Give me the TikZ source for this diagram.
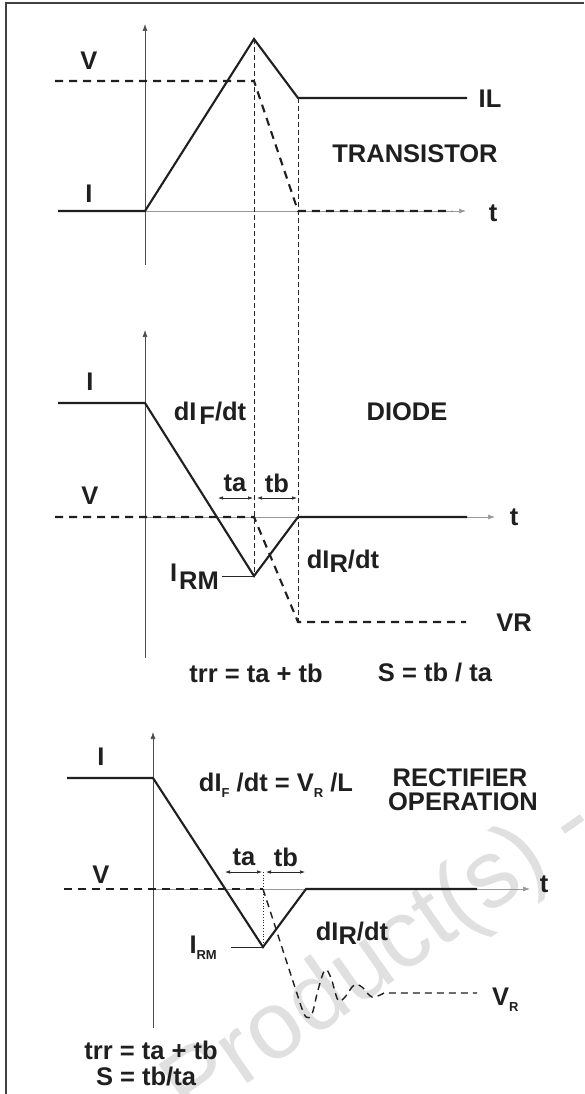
\documentclass[tikz,border=0pt]{standalone}
\usepackage{fontspec}
\setmainfont{Liberation Sans}
\usetikzlibrary{arrows.meta}
\begin{document}
\begin{tikzpicture}[x=1pt,y=-1pt,
  lbl/.style={font=\fontsize{25.5}{27}\selectfont\bfseries, text=black!88, inner sep=0pt},
  wave/.style={line width=2.1pt, draw=black!88, line join=miter},
  vdash/.style={line width=2.1pt, draw=black!88, dash pattern=on 8pt off 6pt},
  vdashthin/.style={line width=1.4pt, draw=black!88, dash pattern=on 7pt off 5pt},
  guide/.style={line width=0.8pt, draw=black!85, dash pattern=on 5pt off 3pt},
  yaxis/.style={line width=0.7pt, draw=black!70, -{Latex[length=7pt,width=5pt]}},
  taxis/.style={line width=0.7pt, draw=black!40, -{Latex[length=7pt,width=5pt]}},
  dimarrow/.style={line width=0.7pt, draw=black!85, {Latex[length=5pt,width=3.5pt]}-{Latex[length=5pt,width=3.5pt]}},
  leader/.style={line width=0.8pt, draw=black!85},
]
\newcommand{\smallsub}[1]{\raisebox{-6pt}{\fontsize{13}{13}\selectfont #1}}
\useasboundingbox (0,0) rectangle (584,1094);
\fill[white] (0,0) rectangle (584,1094);

% watermark
\node[rotate=35, anchor=base west, text=black!12, inner sep=0pt,
      font=\fontsize{96}{96}\selectfont] (wm) at (190,1124) {Product(s) -};

% frame
\draw[line width=2pt, draw=black!75] (6,1094) -- (6,3) -- (584,3);

% ================= TRANSISTOR =================
\coordinate (tA0) at (145,265);
\coordinate (tA1) at (145,24);
\coordinate (tO) at (145,211);
\coordinate (tT) at (466,211);
\coordinate (tS) at (58,211);
\coordinate (tP) at (254,39);
\coordinate (tQ) at (298,98);
\coordinate (tE) at (467,98);
\coordinate (tV0) at (55,81);
\coordinate (tV1) at (254,81);
\coordinate (tV2) at (298,211);
\coordinate (tV3) at (452,211);
\draw[yaxis] (tA0) -- (tA1);
\draw[taxis] (tO) -- (tT);
\draw[wave] (tS) -- (tO) -- (tP) -- (tQ) -- (tE);
\draw[vdash] (tV0) -- (tV1) -- (tV2) -- (tV3);
\node[lbl] (tlV) at (89,61) {V};
\node[lbl] (tlI) at (89,194) {I};
\node[lbl] (tlIL) at (490,99) {IL};
\node[lbl] (tlt) at (493,213) {t};
\node[lbl] (tlname) at (415,154) {TRANSISTOR};

% ================= DIODE =================
\coordinate (dA0) at (145,658);
\coordinate (dA1) at (145,330);
\coordinate (dO) at (145,517);
\coordinate (dT) at (495,517);
\coordinate (dS) at (58,403);
\coordinate (dK) at (145,403);
\coordinate (dRM) at (254,576);
\coordinate (dQ) at (298,517);
\coordinate (dE) at (467,517);
\coordinate (dV0) at (55,517);
\coordinate (dV1) at (254,517);
\coordinate (dV2) at (298,622);
\coordinate (dV3) at (466,622);
\draw[yaxis] (dA0) -- (dA1);
\draw[taxis] (dO) -- (dT);
\draw[wave] (dS) -- (dK) -- (dRM) -- (dQ) -- (dE);
\draw[vdash] (dV0) -- (dV1) -- (dV2) -- (dV3);

% guide lines
\draw[guide] (tP) -- (dRM);
\draw[guide] (tQ) -- (dV2);

% dimension arrows
\coordinate (da0) at (218,498);
\coordinate (da1) at (253,498);
\coordinate (db0) at (257,498);
\coordinate (db1) at (297,498);
\draw[dimarrow] (da0) -- (da1);
\draw[dimarrow] (db0) -- (db1);
\coordinate (dL0) at (222,576);
\draw[leader] (dL0) -- (dRM);

\node[lbl] (dlI) at (90,382) {I};
\node[lbl] (dlV) at (90,496) {V};
\node[lbl] (dlt) at (514,517) {t};
\node[lbl] (dlVR) at (514,623) {VR};
\node[lbl] (dlname) at (407,412) {DIODE};
\node[lbl] (dlF) at (210,413) {dI\hspace{3pt}\raisebox{-4pt}{F}/dt};
\node[lbl] (dlta) at (235,483) {ta};
\node[lbl] (dltb) at (277,483) {tb};
\node[lbl] (dlR) at (343,561) {dI\raisebox{-4pt}{R}/dt};
\node[lbl, anchor=east] (dlIRM) at (219,577) {I\hspace{2pt}\raisebox{-8pt}{RM}};
\node[lbl] (dltrr) at (256,673) {trr = ta + tb};
\node[lbl] (dlS) at (435,673) {S = tb / ta};

% ================= RECTIFIER =================
\coordinate (rA0) at (153,1028);
\coordinate (rA1) at (153,732);
\coordinate (rO) at (153,889);
\coordinate (rT) at (530,889);
\coordinate (rS) at (67,778);
\coordinate (rK) at (153,778);
\coordinate (rRM) at (263,947);
\coordinate (rQ) at (306,889);
\coordinate (rE) at (477,889);
\coordinate (rV0) at (64,889);
\coordinate (rV1) at (263,889);
\coordinate (rV2) at (301,1006);
\coordinate (rV3) at (384,993);
\coordinate (rV4) at (477,993);
\draw[yaxis] (rA0) -- (rA1);
\draw[taxis] (rO) -- (rT);
\draw[wave] (rS) -- (rK) -- (rRM) -- (rQ) -- (rE);
\draw[vdash] (rV0) -- (rV1);
\draw[vdashthin] (rV1) -- (rV2) -- plot[smooth, tension=0.6] coordinates {(301,1006) (306,1017) (312,1014) (318,990) (325,970) (331,978) (338,1000) (345,997) (354,985) (362,987) (372,997) (384,993)} -- (rV4);
\coordinate (rd0) at (263,872);
\draw[line width=0.8pt, draw=black!85, dotted] (rd0) -- (rRM);
\coordinate (ra0) at (225,872);
\coordinate (ra1) at (262,872);
\coordinate (rb0) at (266,872);
\coordinate (rb1) at (305,872);
\draw[dimarrow] (ra0) -- (ra1);
\draw[dimarrow] (rb0) -- (rb1);
\coordinate (rL0) at (231,947);
\draw[leader] (rL0) -- (rRM);

\node[lbl] (rlI) at (101,757) {I};
\node[lbl] (rlV) at (101,875) {V};
\node[lbl] (rlt) at (544,884) {t};
\node[lbl] (rlta) at (244,857) {ta};
\node[lbl] (rltb) at (286,857) {tb};
\node[lbl] (rlF) at (276,785) {dI\smallsub{F} /dt = V\smallsub{R} /L};
\node[lbl] (rlname1) at (460,778) {RECTIFIER};
\node[lbl] (rlname2) at (463,802) {OPERATION};
\node[lbl] (rlR) at (352,933) {dI\raisebox{-4pt}{R}/dt};
\node[lbl, anchor=east] (rlIRM) at (217,948) {I\smallsub{RM}};
\node[lbl, anchor=west] (rlVR) at (492,1000) {V\smallsub{R}};
\node[lbl] (rltrr) at (151,1050) {trr = ta + tb};
\node[lbl] (rlS) at (146,1077) {S = tb/ta};
\end{tikzpicture}
\end{document}
